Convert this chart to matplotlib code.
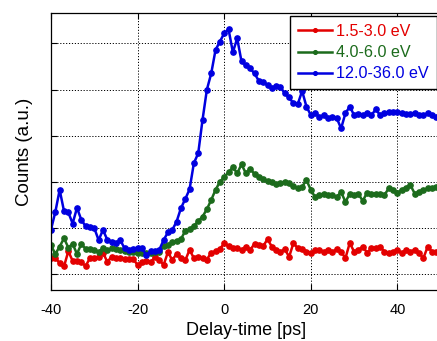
import numpy as np
import matplotlib
matplotlib.use("Agg")
import matplotlib.pyplot as plt

plt.rcParams['font.family'] = ['Liberation Sans', 'DejaVu Sans']
plt.rcParams['axes.unicode_minus'] = False

# delay time, 1 ps steps
delay = np.arange(-40, 50, 1)

# counts (a.u.)
red = [1.35, 1.36, 1.24, 1.17, 1.50, 1.29, 1.28, 1.26, 1.18, 1.35,
       1.36, 1.38, 1.47, 1.27, 1.38, 1.35, 1.35, 1.34, 1.33, 1.33,
       1.20, 1.27, 1.29, 1.26, 1.37, 1.32, 1.20, 1.48, 1.31, 1.44,
       1.35, 1.30, 1.53, 1.35, 1.37, 1.35, 1.32, 1.47, 1.50, 1.55,
       1.67, 1.61, 1.57, 1.58, 1.53, 1.60, 1.53, 1.66, 1.63, 1.61,
       1.76, 1.60, 1.53, 1.49, 1.54, 1.38, 1.68, 1.56, 1.55, 1.49,
       1.47, 1.53, 1.53, 1.49, 1.53, 1.49, 1.54, 1.49, 1.35, 1.68,
       1.49, 1.53, 1.60, 1.47, 1.56, 1.56, 1.60, 1.49, 1.46, 1.49,
       1.53, 1.46, 1.53, 1.49, 1.53, 1.46, 1.35, 1.60, 1.49, 1.48]

green = [1.63, 1.44, 1.60, 1.78, 1.58, 1.66, 1.44, 1.66, 1.55, 1.55,
         1.53, 1.49, 1.56, 1.52, 1.56, 1.54, 1.53, 1.51, 1.49, 1.49,
         1.46, 1.47, 1.46, 1.47, 1.48, 1.48, 1.61, 1.63, 1.70, 1.73,
         1.76, 1.94, 1.98, 2.05, 2.15, 2.25, 2.41, 2.61, 2.83, 3.00,
         3.11, 3.21, 3.32, 3.19, 3.38, 3.19, 3.29, 3.17, 3.11, 3.06,
         3.02, 3.00, 2.96, 2.98, 3.00, 2.97, 2.91, 2.86, 2.90, 3.04,
         2.83, 2.67, 2.72, 2.73, 2.72, 2.71, 2.68, 2.78, 2.57, 2.74,
         2.71, 2.74, 2.59, 2.77, 2.73, 2.75, 2.75, 2.72, 2.86, 2.83,
         2.77, 2.83, 2.88, 2.93, 2.75, 2.79, 2.83, 2.86, 2.86, 2.89]

blue = [1.97, 2.35, 2.83, 2.37, 2.34, 2.10, 2.44, 2.18, 2.04, 2.03,
        2.00, 1.74, 1.96, 1.75, 1.71, 1.67, 1.74, 1.56, 1.52, 1.55,
        1.58, 1.58, 1.41, 1.50, 1.50, 1.53, 1.74, 1.91, 1.96, 2.14,
        2.43, 2.63, 2.84, 3.41, 3.62, 4.35, 5.00, 5.35, 5.86, 6.04,
        6.22, 6.31, 5.81, 6.11, 5.61, 5.53, 5.46, 5.35, 5.19, 5.17,
        5.10, 5.03, 5.08, 5.05, 4.92, 4.83, 4.70, 4.69, 4.97, 4.63,
        4.45, 4.49, 4.41, 4.45, 4.38, 4.41, 4.38, 4.16, 4.49, 4.63,
        4.45, 4.47, 4.45, 4.49, 4.45, 4.57, 4.45, 4.49, 4.52, 4.52,
        4.52, 4.49, 4.47, 4.47, 4.49, 4.45, 4.45, 4.49, 4.45, 4.40]

labels = ['1.5-3.0 eV', '4.0-6.0 eV', '12.0-36.0 eV']
colors = ['#e30000', '#1c6b1c', '#0000e0']

fig = plt.figure(figsize=(4.37, 3.41), dpi=100)
ax = fig.add_axes([51/437, 51/341, 389.7/437, 277/341])

for y, lab, c in zip([red, green, blue], labels, colors):
    ax.plot(delay, y, '-o', color=c, lw=1.8, ms=3.8, label=lab)

ax.set_xlim(-40, 50)
ax.set_ylim(0.66, 6.66)
ax.set_xticks([-40, -20, 0, 20, 40])
ax.set_yticks([1, 2, 3, 4, 5, 6])
ax.set_yticklabels([])
ax.tick_params(direction='in', top=True, right=False, length=4,
               labelsize=10.5, pad=9)
ax.grid(True, color='black', ls=(0, (1.2, 1.8)), lw=0.7)
for sp in ax.spines.values():
    sp.set_linewidth(0.9)

ax.set_xlabel('Delay-time [ps]', fontsize=13, labelpad=4)
ax.set_ylabel('Counts (a.u.)', fontsize=13.5, labelpad=4)

leg = ax.legend(loc='upper right', bbox_to_anchor=(0.9905, 0.989),
                borderaxespad=0, fancybox=False, framealpha=1,
                edgecolor='black', fontsize=11.6, handlelength=2.1,
                handletextpad=0.25, labelspacing=0.38, borderpad=0.5,
                markerscale=0.7)
leg.get_frame().set_linewidth(1.0)
for txt, c in zip(leg.get_texts(), colors):
    txt.set_color(c)

fig.savefig('out.png', dpi=100)
